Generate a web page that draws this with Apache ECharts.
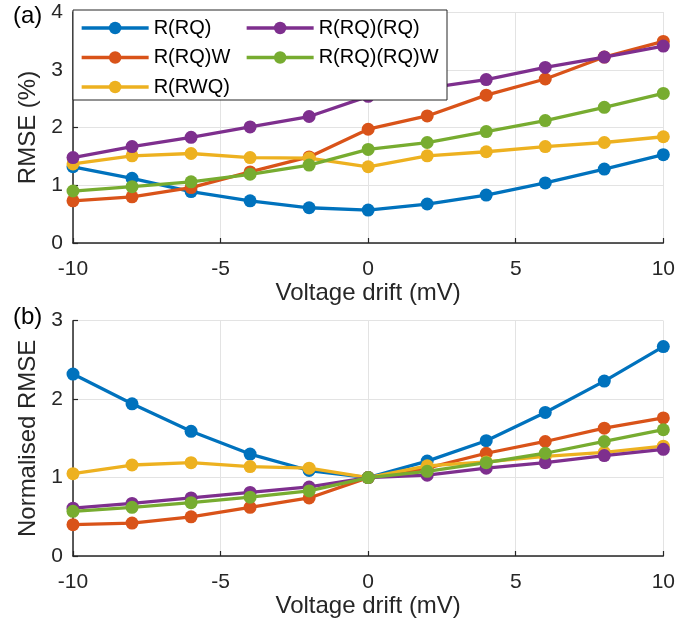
<!DOCTYPE html>
<html>
<head>
<meta charset="utf-8">
<script src="https://cdn.jsdelivr.net/npm/echarts@6/dist/echarts.min.js"></script>
<style>html,body{margin:0;padding:0;background:#fff}#c{width:678px;height:619px}</style>
</head>
<body>
<div id="c"></div>
<script>
const xVals = [-10, -8, -6, -4, -2, 0, 2, 4, 6, 8, 10];
const seriesNames = ['R(RQ)', 'R(RQ)W', 'R(RWQ)', 'R(RQ)(RQ)', 'R(RQ)(RQ)W'];
const colors = ['#0072BD', '#D95319', '#EDB120', '#7E2F8E', '#77AC30'];

// (a) RMSE (%)
const rmseRQ     = [1.32, 1.12, 0.89, 0.73, 0.61, 0.57, 0.675, 0.83, 1.04, 1.28, 1.53];
const rmseRQW    = [0.73, 0.80, 0.96, 1.23, 1.49, 1.97, 2.20, 2.56, 2.84, 3.22, 3.49];
const rmseRWQ    = [1.37, 1.51, 1.55, 1.48, 1.47, 1.32, 1.51, 1.58, 1.67, 1.74, 1.84];
const rmseRQRQ   = [1.48, 1.67, 1.83, 2.01, 2.19, 2.54, 2.68, 2.83, 3.04, 3.22, 3.41];
const rmseRQRQW  = [0.90, 0.975, 1.06, 1.19, 1.35, 1.62, 1.74, 1.93, 2.12, 2.35, 2.59];

// (b) Normalised RMSE
const normRQ     = [2.32, 1.94, 1.59, 1.30, 1.09, 1.00, 1.21, 1.47, 1.83, 2.23, 2.67];
const normRQW    = [0.40, 0.42, 0.50, 0.62, 0.74, 1.00, 1.12, 1.31, 1.46, 1.63, 1.76];
const normRWQ    = [1.05, 1.16, 1.19, 1.14, 1.12, 1.00, 1.15, 1.20, 1.27, 1.32, 1.40];
const normRQRQ   = [0.61, 0.67, 0.74, 0.81, 0.88, 1.00, 1.03, 1.12, 1.19, 1.28, 1.36];
const normRQRQW  = [0.57, 0.62, 0.68, 0.75, 0.83, 1.00, 1.08, 1.19, 1.31, 1.46, 1.61];

const topTicks = [0, 1, 2, 3, 4];
const bottomTicks = [0, 1, 2, 3];
const xTitle = 'Voltage drift (mV)';
const yTitleTop = 'RMSE (%)';
const yTitleBottom = 'Normalised RMSE';

const topData = [rmseRQ, rmseRQW, rmseRWQ, rmseRQRQ, rmseRQRQW];
const bottomData = [normRQ, normRQW, normRWQ, normRQRQ, normRQRQW];

const FONT = 'Liberation Sans, Arial, Helvetica, sans-serif';
const AX = '#262626';

function xAxis(gridIndex) {
  return {
    type: 'value', gridIndex, min: -10, max: 10, interval: 5,
    name: xTitle, nameLocation: 'middle', nameGap: 35,
    nameTextStyle: { fontFamily: FONT, fontSize: 24, color: AX },
    axisLine: { show: true, onZero: false, lineStyle: { color: AX, width: 1.5 } },
    axisTick: { show: true, inside: true, length: 5, lineStyle: { color: AX, width: 1.2 } },
    axisLabel: { fontFamily: FONT, fontSize: 21, color: AX, margin: 16 },
    splitLine: { show: true, lineStyle: { color: '#e3e3e3', width: 1 } }
  };
}
function yAxis(gridIndex, ticks, title) {
  return {
    type: 'value', gridIndex, min: ticks[0], max: ticks[ticks.length - 1], interval: 1,
    name: title, nameLocation: 'middle', nameGap: 30,
    nameTextStyle: { fontFamily: FONT, fontSize: 24, color: AX },
    axisLine: { show: true, onZero: false, lineStyle: { color: AX, width: 1.5 } },
    axisTick: { show: true, inside: true, length: 5, lineStyle: { color: AX, width: 1.2 } },
    axisLabel: { fontFamily: FONT, fontSize: 21, color: AX, margin: 10 },
    splitLine: { show: true, lineStyle: { color: '#e3e3e3', width: 1 } }
  };
}

const series = [];
[topData, bottomData].forEach((set, gi) => {
  set.forEach((vals, i) => {
    series.push({
      name: seriesNames[i], type: 'line', xAxisIndex: gi, yAxisIndex: gi,
      data: xVals.map((x, k) => [x, vals[k]]),
      symbol: 'circle', symbolSize: 13, showAllSymbol: true,
      lineStyle: { color: colors[i], width: 3.3 },
      itemStyle: { color: colors[i] },
      z: 2 + i * 0.01
    });
  });
});

const legendCommon = {
  orient: 'vertical', padding: 0, itemWidth: 67, itemHeight: 15.5, itemGap: 9.5,
  selectedMode: false,
  textStyle: { fontFamily: FONT, fontSize: 20, color: '#000', lineHeight: 20 },
  lineStyle: { width: 3.3 },
  z: 5
};

const chart = echarts.init(document.getElementById('c'), null, { renderer: 'canvas' });
chart.setOption({
  animation: false,
  backgroundColor: '#fff',
  color: colors,
  grid: [
    { left: 73, right: 12, top: 12, height: 231, containLabel: false },
    { left: 73, right: 12, top: 320.7, height: 235.3, containLabel: false }
  ],
  xAxis: [xAxis(0), xAxis(1)],
  yAxis: [yAxis(0, topTicks, yTitleTop), yAxis(1, bottomTicks, yTitleBottom)],
  legend: [
    Object.assign({}, legendCommon, { left: 80, top: 18, data: [seriesNames[0], seriesNames[1], seriesNames[2]] }),
    Object.assign({}, legendCommon, { left: 245, top: 18, data: [seriesNames[3], seriesNames[4]] })
  ],
  graphic: [
    { type: 'rect', z: 3, shape: { x: 73, y: 10, width: 374, height: 90 },
      style: { fill: '#fff', stroke: AX, lineWidth: 1 } },
    { type: 'text', z: 5, x: 13, y: 16,
      style: { text: '(a)', font: '24px ' + FONT, fill: '#000', verticalAlign: 'middle', align: 'left' } },
    { type: 'text', z: 5, x: 13, y: 317,
      style: { text: '(b)', font: '24px ' + FONT, fill: '#000', verticalAlign: 'middle', align: 'left' } }
  ],
  series
});
</script>
</body>
</html>
